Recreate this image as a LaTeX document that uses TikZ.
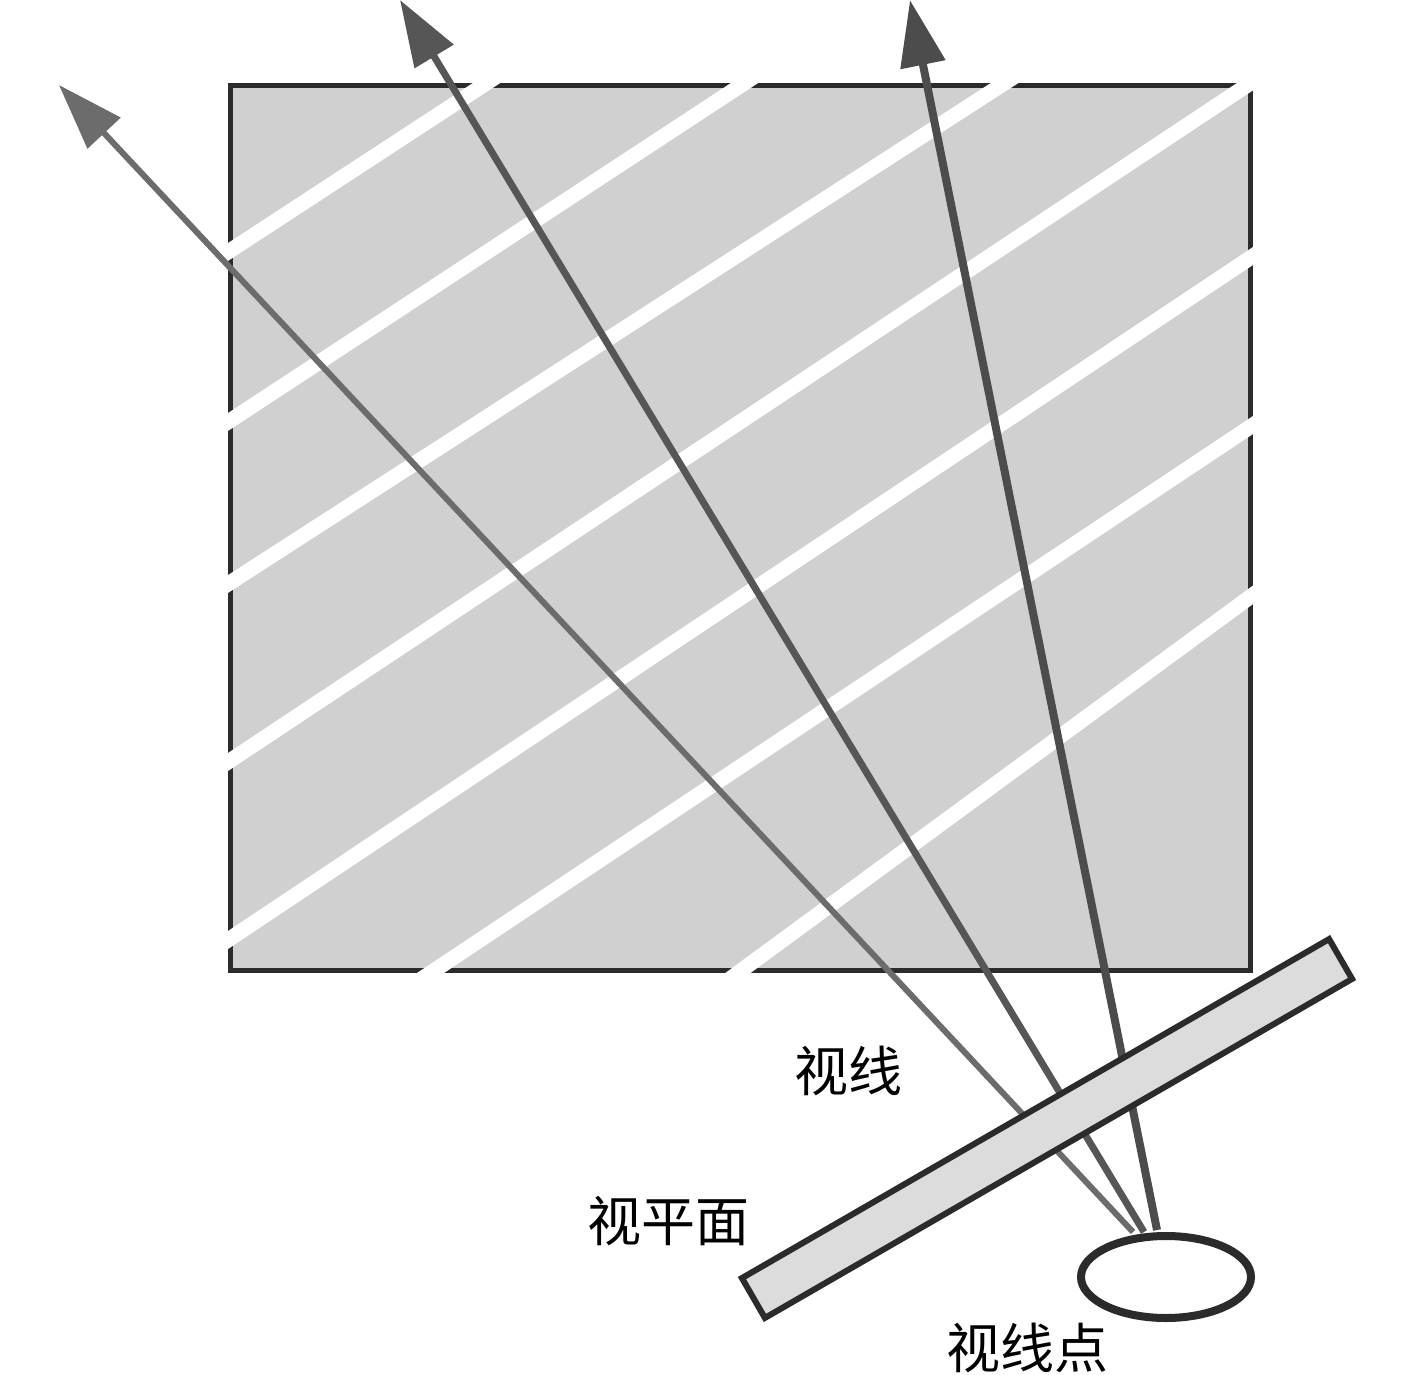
\documentclass[tikz,border=0pt]{standalone}
\usepackage{fontspec}
\newfontfamily\cjk{Noto Sans CJK SC}
\usetikzlibrary{arrows.meta,shapes.geometric}
\definecolor{boxfill}{HTML}{D0D0D0}
\definecolor{edge}{HTML}{2B2B2B}
\definecolor{planefill}{HTML}{DCDCDC}
\definecolor{rayA}{HTML}{6C6C6C}
\definecolor{rayB}{HTML}{565656}
\definecolor{rayC}{HTML}{4C4C4C}
\tikzset{
  stripe/.style={white, line width=15pt, shorten >=-40pt, shorten <=-40pt},
  ray/.style={-{Triangle[length=66pt,width=44pt]}},
  lbl/.style={font=\cjk\fontsize{54}{60}\selectfont, inner sep=0pt, anchor=center}
}
\begin{document}
\begin{tikzpicture}[x=1pt,y=-1pt]
\useasboundingbox (0,0) rectangle (1417,1375);
% object
\draw[fill=boxfill, draw=edge, line width=5pt] (230,86) rectangle (1250,970);
\begin{scope}
\clip (226,82) rectangle (1254,974);
\draw[stripe] (228,252) -- (482,86);
\draw[stripe] (228,422) -- (740,86);
\draw[stripe] (228,584) -- (1000,86);
\draw[stripe] (228,762) -- (1246,86);
\draw[stripe] (228,940) -- (1250,258);
\draw[stripe] (435,970) -- (1250,427);
\draw[stripe] (742,970) -- (1250,597);
\end{scope}
% rays
\coordinate (o1) at (1133,1232);
\coordinate (o2) at (1144,1232);
\coordinate (o3) at (1157,1230);
\coordinate (t1) at (59,85);
\coordinate (t2) at (400,0);
\coordinate (t3) at (910,0);
\draw[ray, rayA, line width=6pt] (o1) -- (t1);
\draw[ray, rayB, line width=7pt] (o2) -- (t2);
\draw[ray, rayC, line width=8pt] (o3) -- (t3);
% view plane
\node[draw=edge, fill=planefill, line width=6pt, rotate=30, minimum width=678pt, minimum height=46pt, inner sep=0pt] (plane) at (1047,1128.5) {};
% eye
\node[draw=edge, fill=white, line width=8pt, ellipse, minimum width=170pt, minimum height=82pt, inner sep=0pt] (eye) at (1166,1277) {};
% labels
\node[lbl] (l1) at (848,1071) {视线};
\node[lbl] (l2) at (668,1221) {视平面};
\node[lbl] (l3) at (1027,1348) {视线点};
\end{tikzpicture}
\end{document}
